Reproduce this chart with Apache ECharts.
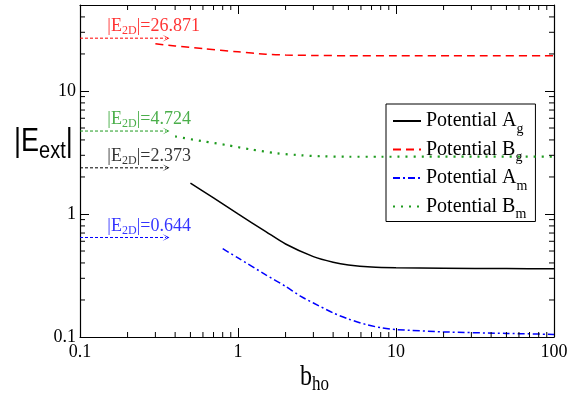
<!DOCTYPE html>
<html><head><meta charset="utf-8">
<script src="https://cdn.jsdelivr.net/npm/echarts@6/dist/echarts.min.js"></script>
<style>html,body{margin:0;padding:0;background:#fff}#c{width:579px;height:394px}</style>
</head><body><div id="c"></div>
<script>
// ---- data ----
const bhoAg = [0.5, 0.7, 1, 1.5, 2, 3, 4, 5, 7, 10, 20, 50, 100];
const EAg   = [1.78, 1.35, 1.0, 0.72, 0.57, 0.45, 0.405, 0.385, 0.37, 0.365, 0.362, 0.36, 0.358];
const bhoBg = [0.3, 0.4, 0.6, 1, 1.5, 2, 3, 5, 10, 30, 100];
const EBg   = [24.2, 23.2, 22.1, 20.8, 19.9, 19.6, 19.45, 19.35, 19.3, 19.3, 19.3];
const bhoAm = [0.8, 1, 1.5, 2, 2.5, 3, 4, 5, 6.5, 8, 10, 20, 50, 100];
const EAm   = [0.522, 0.44, 0.32, 0.258, 0.214, 0.189, 0.157, 0.14, 0.126, 0.119, 0.115, 0.11, 0.107, 0.105];
const bhoBm = [0.4, 0.6, 0.85, 1.2, 1.75, 2.5, 3.5, 5, 8, 20, 100];
const EBm   = [4.27, 3.9, 3.63, 3.35, 3.12, 3.0, 2.94, 2.92, 2.92, 2.93, 2.93];
const E2D      = [26.871, 4.724, 2.373, 0.644];
const E2DText  = ['26.871', '4.724', '2.373', '0.644'];
const arrowStart = 0.1, arrowEnd = 0.35, labelX = 0.149;
const xMin = 0.1, xMax = 100, yMin = 0.1, yMax = 50;
const xMinor = [0.2,0.3,0.4,0.5,0.6,0.7,0.8,0.9,2,3,4,5,6,7,8,9,20,30,40,50,60,70,80,90];
const yMinor = [0.2,0.3,0.4,0.5,0.6,0.7,0.8,0.9,2,3,4,5,6,7,8,9,20,30,40];
const names = ['Potential Ag', 'Potential Bg', 'Potential Am', 'Potential Bm'];

// ---- styles ----
const RED = '#ff0000', GREEN = '#1e9b1e', BLUE = '#0000ff', BLACK = '#000000';
const E2DColors = [RED, GREEN, BLACK, BLUE];
const SERIF = '"Liberation Serif", "Times New Roman", serif';
const SANS = '"Liberation Sans", Arial, sans-serif';
const MAJOR_LEN = 9, MINOR_LEN = 5;

const zip = (a, b) => a.map((v, i) => [v, b[i]]);
const labelFmt = v => (v < 1 ? String(v) : String(Math.round(v)));

function xAx(pos, showLabel) {
  return {
    type: 'log', logBase: 10, min: xMin, max: xMax, position: pos,
    axisLine: { show: true, onZero: false, lineStyle: { color: '#000', width: 1.2 } },
    axisTick: { show: true, inside: true, length: MAJOR_LEN, lineStyle: { color: '#000', width: 1 } },
    axisLabel: { show: showLabel, formatter: labelFmt, margin: 6, showMaxLabel: true, showMinLabel: true,
      fontFamily: SERIF, fontSize: 18, color: '#000' },
    splitLine: { show: false }, minorTick: { show: false }
  };
}
function yAx(pos, showLabel) {
  return {
    type: 'log', logBase: 10, min: yMin, max: yMax, position: pos,
    axisLine: { show: true, onZero: false, lineStyle: { color: '#000', width: 1.2 } },
    axisTick: { show: true, inside: true, length: MAJOR_LEN, lineStyle: { color: '#000', width: 1 } },
    axisLabel: { show: showLabel, formatter: v => (v > 10.5 ? '' : labelFmt(v)), margin: 4,
      fontFamily: SERIF, fontSize: 18, color: '#000' },
    splitLine: { show: false }, minorTick: { show: false }
  };
}

const arrowSym = 'path://M0,10 L5,0 L10,10 L5,3 Z';
const arrowSeries = E2D.map((e, i) => ({
  type: 'line', name: 'arrow' + i, xAxisIndex: 0, yAxisIndex: 0,
  data: [{ value: [arrowStart, e], symbol: 'none' },
         { value: [arrowEnd, e], symbol: arrowSym, symbolSize: [7, 7], symbolRotate: -90 }],
  showSymbol: true, silent: true, z: 3,
  itemStyle: { color: E2DColors[i] },
  lineStyle: { color: E2DColors[i], width: 1, type: [3, 2] }
}));

const labelSeries = {
  type: 'scatter', name: 'labels', xAxisIndex: 0, yAxisIndex: 0, symbolSize: 0, silent: true,
  data: E2D.map((e, i) => ({
    value: [labelX, e],
    label: {
      show: true, position: [0, 0], align: 'left', verticalAlign: 'bottom', offset: [0, -1],
      formatter: '{m||E}{s|2D}{m||=' + E2DText[i] + '}',
      rich: {
        m: { fontFamily: SERIF, fontSize: 18, color: E2DColors[i] },
        s: { fontFamily: SERIF, fontSize: 12, color: E2DColors[i], padding: [9, 0, 0, 0] }
      }
    }
  }))
};

const mainSeries = [
  { name: names[0], data: zip(bhoAg, EAg), color: BLACK, lineStyle: { color: BLACK, width: 1.5, type: 'solid' } },
  { name: names[1], data: zip(bhoBg, EBg), color: RED, lineStyle: { color: RED, width: 1.5, type: [8, 5] } },
  { name: names[2], data: zip(bhoAm, EAm), color: BLUE, lineStyle: { color: BLUE, width: 1.5, type: [7, 3, 2, 3] } },
  { name: names[3], data: zip(bhoBm, EBm), color: GREEN, lineStyle: { color: GREEN, width: 2.2, type: [2, 6] } }
].map(s => Object.assign({ type: 'line', xAxisIndex: 0, yAxisIndex: 0, symbol: 'none', smooth: 0.25, z: 4 }, s));

const baseSeries = [...mainSeries, ...arrowSeries, labelSeries];

const chart = echarts.init(document.getElementById('c'), null, { renderer: 'canvas' });
chart.setOption({
  animation: false,
  backgroundColor: '#fff',
  grid: { left: 80, right: 25, top: 5, bottom: 57, outerBoundsMode: 'none', containLabel: false },
  xAxis: [xAx('bottom', true), xAx('top', false)],
  yAxis: [yAx('left', true), yAx('right', false)],
  legend: {
    data: names, orient: 'vertical', left: 386, top: 104,
    padding: [7, 8, 0, 6], itemGap: 3.5, itemWidth: 28, itemHeight: 12,
    borderColor: '#000', borderWidth: 1, backgroundColor: '#fff',
    itemStyle: { opacity: 0, borderWidth: 0 },
    formatter: n => '{m|' + n.slice(0, -1) + '}{s|' + n.slice(-1) + '}',
    textStyle: {
      rich: {
        m: { fontFamily: SERIF, fontSize: 20, color: '#000' },
        s: { fontFamily: SERIF, fontSize: 14, color: '#000', padding: [16, 0, 0, 0] }
      }
    }
  },
  graphic: [
    { type: 'text', left: 14, top: 126, scaleY: 1.2,
      style: { text: '{m||E}{s|ext}{m||}', rich: {
        m: { fontFamily: SANS, fontSize: 27, fill: '#000' },
        s: { fontFamily: SANS, fontSize: 20, fill: '#000', padding: [16, 0, 0, 0] } } } },
    { type: 'text', left: 300, top: 362, scaleY: 1.25,
      style: { text: '{m|b}{s|ho}', rich: {
        m: { fontFamily: SERIF, fontSize: 24, fill: '#000' },
        s: { fontFamily: SERIF, fontSize: 17, fill: '#000', padding: [12, 0, 0, 0] } } } }
  ],
  series: baseSeries
});

// ---- minor ticks: short segments whose far end is found through the axes' own scales ----
const toPx = d => chart.convertToPixel({ gridIndex: 0 }, d);
const toData = p => chart.convertFromPixel({ gridIndex: 0 }, p);
const tickData = [];
xMinor.forEach(v => {
  const b = toPx([v, yMin]);
  const t = toPx([v, yMax]);
  tickData.push([v, yMin], [v, toData([b[0], b[1] - MINOR_LEN])[1]], [v, '-']);
  tickData.push([v, yMax], [v, toData([t[0], t[1] + MINOR_LEN])[1]], [v, '-']);
});
yMinor.forEach(v => {
  const l = toPx([xMin, v]);
  const r = toPx([xMax, v]);
  tickData.push([xMin, v], [toData([l[0] + MINOR_LEN, l[1]])[0], v], ['-', v]);
  tickData.push([xMax, v], [toData([r[0] - MINOR_LEN, r[1]])[0], v], ['-', v]);
});
const tickSeries = {
  type: 'line', name: 'minorTicks', xAxisIndex: 0, yAxisIndex: 0, silent: true, clip: false,
  symbol: 'none', connectNulls: false, z: 6,
  lineStyle: { color: '#000', width: 1 },
  data: tickData
};
chart.setOption({ series: [...baseSeries, tickSeries] });
</script></body></html>
